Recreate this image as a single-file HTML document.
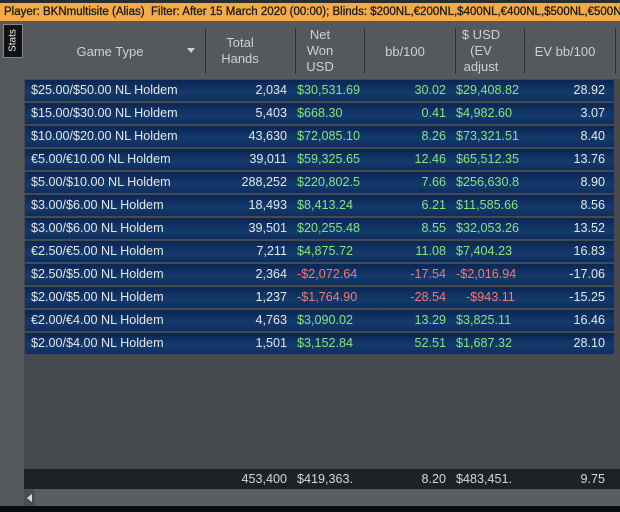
<!DOCTYPE html>
<html><head><style>
body{margin:0;width:620px;height:512px;overflow:hidden;background:#46494d;font-family:"Liberation Sans",sans-serif;font-size:12.6px;position:relative}
.abs{position:absolute;white-space:nowrap}
.row{position:absolute;left:25px;width:589px;height:21px;background:linear-gradient(#0a2654,#143a6c 60%,#0e2e5e);line-height:21px;color:#e6e6e6}
.row span{position:absolute;top:0;white-space:nowrap}
.g{color:#86e47e}.r{color:#f27a72}
.h{position:absolute;color:#d0d0d0;text-align:center;line-height:16px;font-size:13px}
.sep{position:absolute;top:28px;width:1px;height:46px;background:#2e3134}
</style></head><body>
<div class="abs" style="left:0;top:0;width:620px;height:3px;background:#2a2c2e"></div>
<div class="abs" style="left:0;top:3px;width:620px;height:18px;background:#f4aa47;color:#1a1a1a;font-size:11.5px;line-height:18px;padding-left:4px;box-sizing:border-box;overflow:hidden;-webkit-text-stroke:0.3px #1a1a1a">Player: BKNmultisite (Alias)&nbsp; Filter: After 15 March 2020 (00:00); Blinds: $200NL,€200NL,$400NL,€400NL,$500NL,€500NL,$6</div>
<div class="abs" style="left:0;top:21px;width:24px;height:491px;background:#55585c"></div>
<div class="abs" style="left:3px;top:24px;width:18px;height:32px;background:#111;border:1px solid #888;color:#eee;font-size:10px"><div style="transform:rotate(-90deg);position:absolute;left:-7px;top:10px;width:32px;text-align:center">Stats</div></div>
<div class="abs" style="left:24px;top:21px;width:596px;height:58px;background:#55585c"></div>
<div class="sep" style="left:205px"></div><div class="sep" style="left:295px"></div><div class="sep" style="left:364px"></div><div class="sep" style="left:455px"></div><div class="sep" style="left:524px"></div><div class="sep" style="left:615px"></div>
<div class="h" style="left:55px;top:44px;width:110px">Game Type</div>
<div class="abs" style="left:187px;top:48px;border-left:4px solid transparent;border-right:4px solid transparent;border-top:5px solid #d0d0d0"></div>
<div class="h" style="left:210px;top:35px;width:60px">Total<br>Hands</div>
<div class="h" style="left:296px;top:27px;width:48px">Net<br>Won<br>USD</div>
<div class="h" style="left:370px;top:44px;width:70px">bb/100</div>
<div class="h" style="left:456px;top:27px;width:50px">$ USD<br>(EV<br>adjust</div>
<div class="h" style="left:525px;top:44px;width:80px">EV bb/100</div>
<div id="rows"></div>
<div class="abs" style="left:24px;top:469px;width:596px;height:20px;background:#1f2225;color:#d6d6d6;line-height:20px">
<span class="abs" style="right:333px">453,400</span><span class="abs" style="left:273px">$419,363.</span><span class="abs" style="right:174px">8.20</span><span class="abs" style="left:432px">$483,451.</span><span class="abs" style="right:15px">9.75</span></div>
<div class="abs" style="left:24px;top:489px;width:596px;height:17px;background:#5a5d61"></div>
<div class="abs" style="left:24px;top:489px;width:11px;height:17px;background:#4a4d51"></div>
<div class="abs" style="left:27px;top:494px;border-top:4px solid transparent;border-bottom:4px solid transparent;border-right:5px solid #ddd"></div>
<div class="abs" style="left:0;top:506px;width:620px;height:6px;background:#0c0c0c"></div>
<script>
var d=[["$25.00/$50.00 NL Holdem","2,034","$30,531.69","30.02","$29,408.82","28.92",0],
["$15.00/$30.00 NL Holdem","5,403","$668.30","0.41","$4,982.60","3.07",0],
["$10.00/$20.00 NL Holdem","43,630","$72,085.10","8.26","$73,321.51","8.40",0],
["€5.00/€10.00 NL Holdem","39,011","$59,325.65","12.46","$65,512.35","13.76",0],
["$5.00/$10.00 NL Holdem","288,252","$220,802.5","7.66","$256,630.8","8.90",0],
["$3.00/$6.00 NL Holdem","18,493","$8,413.24","6.21","$11,585.66","8.56",0],
["$3.00/$6.00 NL Holdem","39,501","$20,255.48","8.55","$32,053.26","13.52",0],
["€2.50/€5.00 NL Holdem","7,211","$4,875.72","11.08","$7,404.23","16.83",0],
["$2.50/$5.00 NL Holdem","2,364","-$2,072.64","-17.54","-$2,016.94","-17.06",1],
["$2.00/$5.00 NL Holdem","1,237","-$1,764.90","-28.54","-$943.11","-15.25",1],
["€2.00/€4.00 NL Holdem","4,763","$3,090.02","13.29","$3,825.11","16.46",0],
["$2.00/$4.00 NL Holdem","1,501","$3,152.84","52.51","$1,687.32","28.10",0]];
var h="";d.forEach(function(r,i){var c=r[6]?"r":"g";
h+='<div class="row" style="top:'+(80+i*23)+'px"><span style="left:6px">'+r[0]+'</span><span style="right:327px">'+r[1]+'</span><span class="'+c+'" style="left:272px">'+r[2]+'</span><span class="'+c+'" style="right:168px">'+r[3]+'</span><span class="'+c+'" style="left:'+(r[6]&&i==9?441:431)+'px">'+r[4]+'</span><span style="right:9px">'+r[5]+'</span></div>';});
document.getElementById("rows").innerHTML=h;
</script>
</body></html>
